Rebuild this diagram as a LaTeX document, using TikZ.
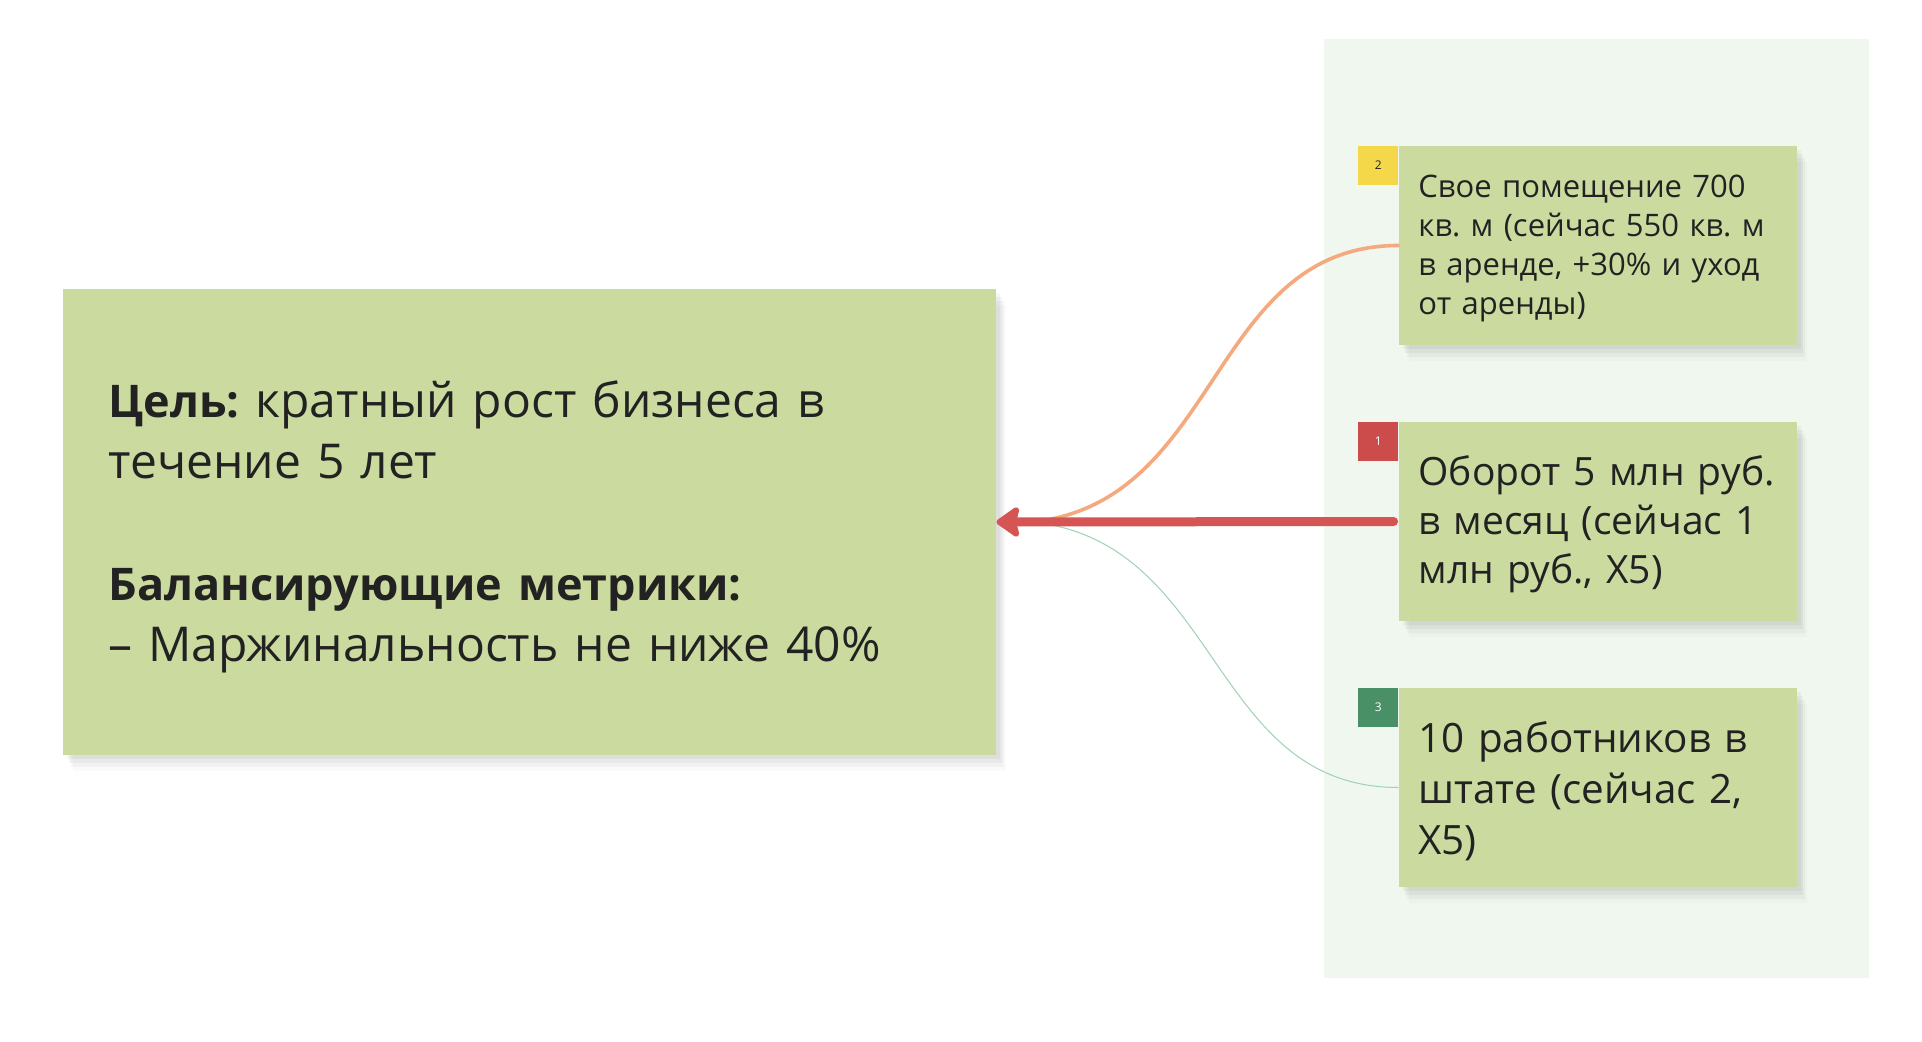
\documentclass[tikz,border=0pt]{standalone}
\usepackage{fontspec}
\setmainfont{Open Sans}
\frenchspacing
\usetikzlibrary{arrows.meta,shadows}

\definecolor{stickyfill}{HTML}{CBDBA0}
\definecolor{panelfill}{HTML}{F0F7EF}
\definecolor{inkdark}{HTML}{222222}
\definecolor{badgeyellow}{HTML}{F5D84A}
\definecolor{badgered}{HTML}{CC4B4B}
\definecolor{badgegreen}{HTML}{4A9066}
\definecolor{arrowred}{HTML}{D55555}
\definecolor{lineorange}{HTML}{F4AA7E}
\definecolor{linegreen}{HTML}{9ED2B2}

\tikzset{
  sticky/.style={fill=stickyfill, draw=none, inner sep=0pt,
    minimum width=199pt, minimum height=99.5pt,
    general shadow={shadow xshift=2pt, shadow yshift=-2pt, fill=black, opacity=0.04},
    general shadow={shadow xshift=3pt, shadow yshift=-4pt, fill=black, opacity=0.04},
    general shadow={shadow xshift=4pt, shadow yshift=-6pt, fill=black, opacity=0.03},
    general shadow={shadow xshift=5pt, shadow yshift=-8pt, fill=black, opacity=0.02}},
  badge/.style={fill=#1, draw=none, inner sep=0pt, minimum width=20pt, minimum height=19.5pt,
    anchor=north east, font=\fontsize{6}{7}\selectfont},
  stickytext/.style={text=inkdark, inner sep=0pt, anchor=base west, align=left, text width=190pt}
}
\newcommand{\goalbold}[1]{{\fontsize{22.5}{30.5}\selectfont\bfseries #1}}

\begin{document}
\begin{tikzpicture}[x=0.5pt,y=-0.5pt]
\useasboundingbox[fill=white] (0,0) rectangle (1922,1042);

% right column
\fill[panelfill] (1324,39) rectangle (1869,978);

% goal
\node[sticky, minimum width=466.5pt, minimum height=233pt] (goal) at (529.5,522) {};
\node[stickytext, text width=440pt, font=\fontsize{24}{30.5}\selectfont] (goaltext) at (108,418)
  {\goalbold{Цель:} кратный рост бизнеса в\\течение 5 лет\\[30.5pt]\goalbold{Балансирующие метрики:}\\– Маржинальность не ниже 40\%};

% key results
\node[sticky] (kr2) at (1598,245.5) {};
\node[sticky] (kr1) at (1598,521.5) {};
\node[sticky] (kr3) at (1598,787.5) {};

\node[badge=badgeyellow, text=inkdark] (n2) at (kr2.north west) {2};
\node[badge=badgered, text=white] (n1) at (kr1.north west) {1};
\node[badge=badgegreen, text=white] (n3) at (kr3.north west) {3};

\node[stickytext, font=\fontsize{15.5}{19.5}\selectfont] (kr2text) at (1418,198)
  {Свое помещение 700\\кв. м (сейчас 550 кв. м\\в аренде, +30\% и уход\\от аренды)};
\node[stickytext, font=\fontsize{19.5}{24.5}\selectfont] (kr1text) at (1418,486)
  {Оборот 5 млн руб.\\в месяц (сейчас 1\\млн руб., X5)};
\node[stickytext, font=\fontsize{20.2}{25.5}\selectfont] (kr3text) at (1418,752)
  {10 работников в\\штате (сейчас 2,\\X5)};

% links
\coordinate (hub) at (1032,522);
\draw[lineorange, line width=1.8pt, line cap=round] (kr2.west) .. controls +(-190,0) and +(190,-20) .. (hub);
\draw[linegreen, line width=0.5pt] (hub) .. controls +(190,20) and +(-190,0) .. (kr3.west);
\draw[arrowred, line width=4.5pt, line cap=round, shorten <=2.5pt,
  -{Stealth[round, length=13pt, width=18pt, inset=2pt]}] (kr1.west) -- (goal.east);

\end{tikzpicture}
\end{document}
